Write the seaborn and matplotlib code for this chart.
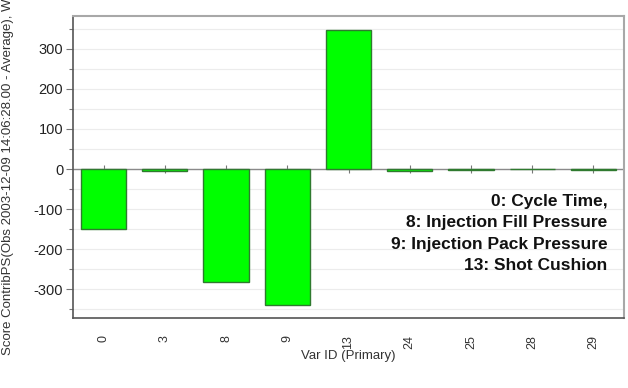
import matplotlib
matplotlib.use("Agg")
import matplotlib.pyplot as plt
import seaborn as sns
import pandas as pd
from matplotlib.ticker import MultipleLocator

var_ids = ["0", "3", "8", "9", "13", "24", "25", "28", "29"]
contrib = [-150, -5, -282, -340, 347, -5, -3, 0, -3]
annotation = ["0: Cycle Time,", "8: Injection Fill Pressure",
              "9: Injection Pack Pressure", "13: Shot Cushion"]

sns.set_theme(style="white")
plt.rcParams["font.family"] = ["Liberation Sans", "DejaVu Sans"]
plt.rcParams["axes.unicode_minus"] = False

df = pd.DataFrame({"var": var_ids, "val": contrib})

fig = plt.figure(figsize=(6.28, 3.88), dpi=100)
ax = fig.add_axes([73/628, 70/388, 551/628, 302/388])

sns.barplot(data=df, x="var", y="val", order=var_ids, color="#00ff00",
            saturation=1, width=0.74, edgecolor="#2f7a2f", linewidth=1.0, ax=ax,
            zorder=3)

ymin, ymax = -372, 382
ax.set_ylim(ymin, ymax)
ax.set_xlim(-0.5, len(var_ids) - 0.5)

ax.yaxis.set_major_locator(MultipleLocator(100))
ax.yaxis.set_minor_locator(MultipleLocator(50))
ax.grid(True, axis="y", which="both", color="#ececec", linewidth=0.8, zorder=0)
ax.set_axisbelow(True)
ax.axhline(0, color="#8a8a8a", linewidth=1.0, zorder=2)

ax.tick_params(axis="y", which="major", left=True, length=5, width=0.8,
               color="#777777", labelsize=10.5, labelcolor="#222222", pad=2)
ax.tick_params(axis="y", which="minor", left=True, length=3, width=0.8,
               color="#777777")
ax.tick_params(axis="x", bottom=False, labelsize=9, labelcolor="#333333",
               labelrotation=90, pad=6)

# tick marks on the zero line
zero_pos = (0 - ymin) / (ymax - ymin)
sec = ax.secondary_xaxis(zero_pos)
sec.set_xticks(range(len(var_ids)))
sec.tick_params(axis="x", direction="inout", length=6, width=0.8,
                color="#777777", labelbottom=False, labeltop=False)
sec.spines["bottom"].set_visible(False)
sec.spines["top"].set_visible(False)

for s in ["left", "bottom"]:
    ax.spines[s].set_color("#555555")
    ax.spines[s].set_linewidth(1.2)
for s in ["top", "right"]:
    ax.spines[s].set_color("#a8a8a8")
    ax.spines[s].set_linewidth(1.5)

ax.set_xlabel("Var ID (Primary)", fontsize=9.5, color="#333333", labelpad=1)
ax.set_ylabel("")
fig.text(8/628, 1 - 355/388,
         "Score ContribPS(Obs 2003-12-09 14:06:28.00 - Average), W",
         rotation=90, ha="center", va="bottom", fontsize=9.5, color="#333333")

ax.text(0.97, 0.41, "\n".join(annotation), transform=ax.transAxes,
        ha="right", va="top", fontsize=12.5, fontweight="bold",
        color="#111111", linespacing=1.52, zorder=5)

fig.savefig("out.png", dpi=100)
